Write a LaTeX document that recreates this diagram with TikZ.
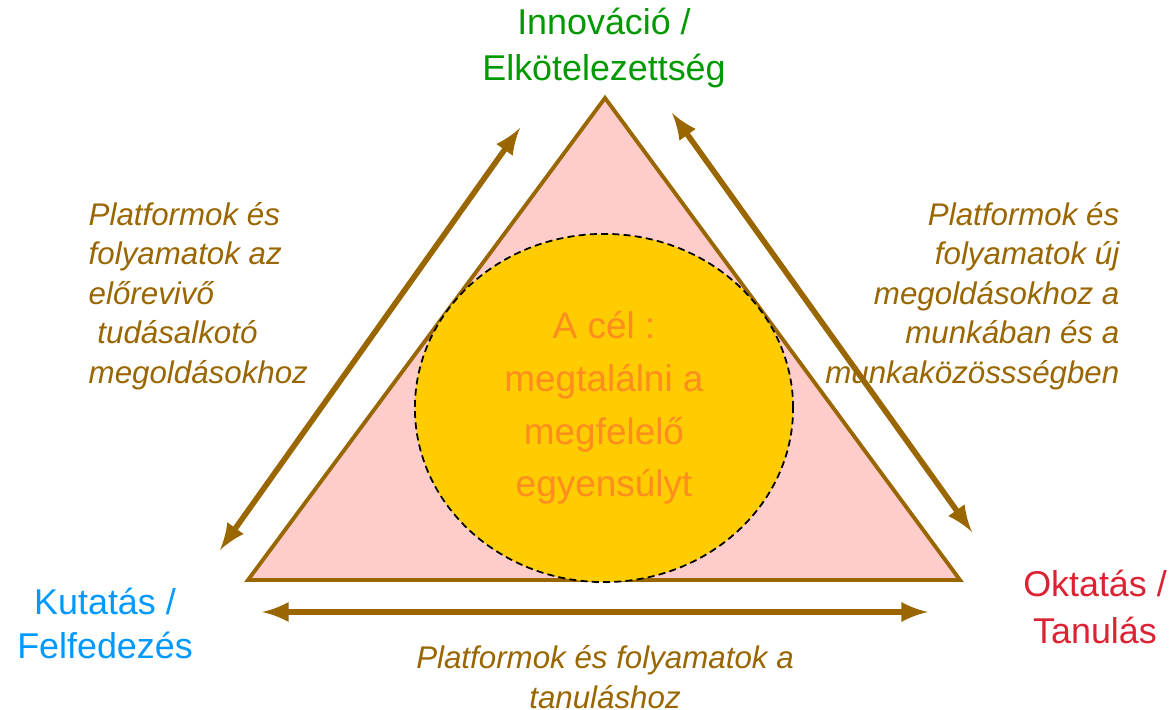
\documentclass[tikz,border=0pt]{standalone}
\usepackage{fontspec}
\setmainfont{Liberation Sans}
\usetikzlibrary{shapes.geometric}
\definecolor{barna}{HTML}{996600}
\definecolor{rozsa}{HTML}{FFCCCC}
\definecolor{sarga}{HTML}{FFCC00}
\definecolor{narancs}{HTML}{FF8C1F}
\definecolor{zold}{HTML}{009900}
\definecolor{kek}{HTML}{0099FF}
\definecolor{piros}{HTML}{DD2233}
\begin{document}
\begin{tikzpicture}[x=0.01cm, y=-0.01cm,
        nyil/.style={<->, >=latex, line width=1.6pt, barna},
        csucs/.style={align=center, inner sep=0pt, font=\fontsize{10.2}{13.2}\selectfont},
        leiras/.style={inner sep=0pt, text=barna, font=\fontsize{8.9}{11.2}\selectfont\itshape}]
        \useasboundingbox (0,0) rectangle (1173,710);
        \draw[barna, line width=1.1pt, fill=rozsa] (605,98) -- (960,580) -- (248,580) -- cycle;
        \node[ellipse, draw, dash pattern=on 2pt off 1.2pt, line width=0.5pt, fill=sarga, minimum width=3.78cm, minimum height=3.48cm, inner sep=0pt, align=center, text=narancs, font=\fontsize{10.5}{15}\selectfont] (cel) at (604,408) {A cél :\\megtalálni a\\megfelelő\\egyensúlyt};
        % csucsok
        \node[csucs, text=zold] (innov) at (604,48) {Innováció /\\Elkötelezettség};
        \node[csucs, text=kek, font=\fontsize{10.2}{12.5}\selectfont] (kutat) at (105,623) {Kutatás /\\Felfedezés};
        \node[csucs, text=piros] (oktat) at (1095,607) {Oktatás /\\Tanulás};
        % nyilak
        \coordinate (b1) at (220,550); \coordinate (b2) at (520,128);
        \coordinate (j1) at (672,113); \coordinate (j2) at (972,532);
        \coordinate (a1) at (262,612); \coordinate (a2) at (928,612);
        \draw[nyil] (b1) -- (b2);
        \draw[nyil] (j1) -- (j2);
        \draw[nyil] (a1) -- (a2);
        \node[leiras, align=left, anchor=west] (bal) at (88,296) {Platformok és\\folyamatok az\\előrevivő\\~tudásalkotó\\megoldásokhoz};
        \node[leiras, align=right, anchor=east] (jobb) at (1120,296) {Platformok és\\folyamatok új\\megoldásokhoz a\\munkában és a\\munkaközössségben};
        \node[leiras, align=center] (also) at (605,677) {Platformok és folyamatok a\\tanuláshoz};
\end{tikzpicture}
\end{document}
